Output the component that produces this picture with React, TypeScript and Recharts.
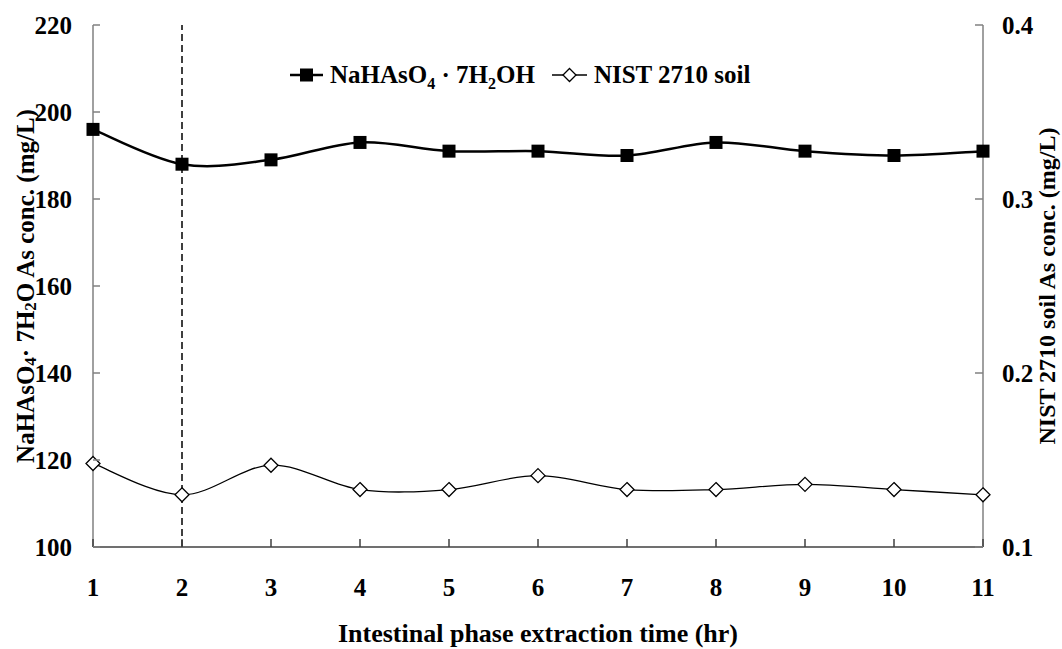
import React from 'react';
import { LineChart, Line, XAxis, YAxis, ReferenceLine, Legend } from 'recharts';

const FONT = '"Liberation Serif", "Times New Roman", Times, serif';

// ---- data ----
const times = [1, 2, 3, 4, 5, 6, 7, 8, 9, 10, 11];
const nahaso4Conc = [196, 188, 189, 193, 191, 191, 190, 193, 191, 190, 191];
const nistConc = [0.148, 0.13, 0.147, 0.133, 0.133, 0.141, 0.133, 0.133, 0.136, 0.133, 0.13];
const leftTicks = [100, 120, 140, 160, 180, 200, 220];
const rightTicks = [0.1, 0.2, 0.3, 0.4];
const xTicks = [1, 2, 3, 4, 5, 6, 7, 8, 9, 10, 11];
const seriesNames = ['NaHAsO4 · 7H2OH', 'NIST 2710 soil'];
const leftAxisTitle = 'NaHAsO4· 7H2O As conc. (mg/L)';
const rightAxisTitle = 'NIST 2710 soil As conc. (mg/L)';
const xAxisTitle = 'Intestinal phase extraction time (hr)';
const markerTime = 2;

const data = times.map((t, i) => ({ time: t, nahaso4: nahaso4Conc[i], nist: nistConc[i] }));

// Excel-like smoothed line (Catmull-Rom through the points)
const excelCurve = (context: any) => {
  let pts: number[][] = [];
  return {
    areaStart() {},
    areaEnd() {},
    lineStart() {
      pts = [];
    },
    point(x: number, y: number) {
      pts.push([+x, +y]);
    },
    lineEnd() {
      const n = pts.length;
      if (!n) return;
      context.moveTo(pts[0][0], pts[0][1]);
      for (let i = 0; i < n - 1; i++) {
        const p0 = pts[i - 1] || pts[i];
        const p1 = pts[i];
        const p2 = pts[i + 1];
        const p3 = pts[i + 2] || p2;
        context.bezierCurveTo(
          p1[0] + (p2[0] - p0[0]) / 6,
          p1[1] + (p2[1] - p0[1]) / 6,
          p2[0] - (p3[0] - p1[0]) / 6,
          p2[1] - (p3[1] - p1[1]) / 6,
          p2[0],
          p2[1]
        );
      }
    },
  };
};

function splitChem(s: string) {
  const parts: { t: string; sub: boolean }[] = [];
  for (let i = 0; i < s.length; i++) {
    const c = s[i];
    const sub = /\d/.test(c) && i > 0 && /[A-Za-z]/.test(s[i - 1]);
    const last = parts[parts.length - 1];
    if (last && last.sub === sub) last.t += c;
    else parts.push({ t: c, sub });
  }
  return parts;
}

function svgChem(s: string, subSize: number, shift: number) {
  const parts = splitChem(s);
  let prevSub = false;
  return parts.map((p, i) => {
    let dy = 0;
    if (p.sub && !prevSub) dy = shift;
    if (!p.sub && prevSub) dy = -shift;
    prevSub = p.sub;
    return (
      <tspan key={i} dy={dy} fontSize={p.sub ? subSize : undefined}>
        {p.t}
      </tspan>
    );
  });
}

function htmlChem(s: string) {
  return splitChem(s).map((p, i) =>
    p.sub ? (
      <sub key={i} style={{ fontSize: 16, lineHeight: 0 }}>
        {p.t}
      </sub>
    ) : (
      <span key={i} style={{ whiteSpace: 'pre' }}>{p.t}</span>
    )
  );
}

const SquareDot = (p: any) => (
  <rect key={`sq-${p.index}`} x={p.cx - 6.5} y={p.cy - 6.5} width={13} height={13} fill="#000" />
);

const DiamondDot = (p: any) => (
  <polygon
    key={`dm-${p.index}`}
    points={`${p.cx},${p.cy - 7} ${p.cx + 7},${p.cy} ${p.cx},${p.cy + 7} ${p.cx - 7},${p.cy}`}
    fill="#fff"
    stroke="#000"
    strokeWidth={1.3}
  />
);

const XTick = (p: any) => (
  <g>
    <line x1={p.x} x2={p.x} y1={p.y} y2={p.y - 8} stroke="#404040" strokeWidth={1.5} />
    <text x={p.x} y={p.y + 49} textAnchor="middle" fontFamily={FONT} fontWeight="bold" fontSize={25} fill="#000">
      {p.payload.value}
    </text>
  </g>
);

const LeftTick = (p: any) => (
  <g>
    <line x1={p.x} x2={p.x + 7} y1={p.y} y2={p.y} stroke="#808080" strokeWidth={1.5} />
    <text x={p.x - 21} y={p.y + 9} textAnchor="end" fontFamily={FONT} fontWeight="bold" fontSize={25} fill="#000">
      {p.payload.value}
    </text>
  </g>
);

const RightTick = (p: any) => (
  <g>
    <line x1={p.x} x2={p.x - 8} y1={p.y} y2={p.y} stroke="#808080" strokeWidth={1.5} />
    <text x={p.x + 19} y={p.y + 9} textAnchor="start" fontFamily={FONT} fontWeight="bold" fontSize={25} fill="#000">
      {Number(p.payload.value).toFixed(1)}
    </text>
  </g>
);

const LeftTitle = (props: any) => {
  const vb = props.viewBox || { x: 0, y: 25, width: 93, height: 522 };
  const cx = vb.x + 25;
  const cy = vb.y + vb.height / 2;
  return (
    <text
      x={cx}
      y={cy}
      transform={`rotate(-90, ${cx}, ${cy})`}
      textAnchor="middle"
      dominantBaseline="central"
      fontFamily={FONT}
      fontWeight="bold"
      fontSize={25}
      fill="#000"
    >
      {svgChem(leftAxisTitle, 17, 5)}
    </text>
  );
};

const RightTitle = (props: any) => {
  const vb = props.viewBox || { x: 983, y: 25, width: 79, height: 522 };
  const cx = vb.x + 64;
  const cy = vb.y + vb.height / 2;
  return (
    <text
      x={cx}
      y={cy}
      transform={`rotate(-90, ${cx}, ${cy})`}
      textAnchor="middle"
      dominantBaseline="central"
      fontFamily={FONT}
      fontWeight="bold"
      fontSize={24}
      fill="#000"
    >
      {rightAxisTitle}
    </text>
  );
};

const XTitle = (props: any) => {
  const vb = props.viewBox || { x: 93, y: 547, width: 890, height: 102 };
  return (
    <text
      x={vb.x + vb.width / 2}
      y={vb.y + 86}
      textAnchor="middle"
      dominantBaseline="central"
      fontFamily={FONT}
      fontWeight="bold"
      fontSize={26}
      fill="#000"
    >
      {xAxisTitle}
    </text>
  );
};

const LegendContent = () => (
  <div
    style={{
      display: 'flex',
      alignItems: 'center',
      fontFamily: FONT,
      fontWeight: 'bold',
      fontSize: 25,
      color: '#000',
      whiteSpace: 'nowrap',
      lineHeight: '30px',
      height: 30,
    }}
  >
    <svg width={33} height={20} style={{ display: 'block' }}>
      <line x1={0} x2={33} y1={10} y2={10} stroke="#000" strokeWidth={2.5} />
      <rect x={10} y={3.5} width={13} height={13} fill="#000" />
    </svg>
    <span style={{ marginLeft: 7 }}>{htmlChem(seriesNames[0])}</span>
    <svg width={35} height={20} style={{ display: 'block', marginLeft: 17 }}>
      <line x1={0} x2={35} y1={10} y2={10} stroke="#000" strokeWidth={1.3} />
      <polygon points="17.5,3.5 24,10 17.5,16.5 11,10" fill="#fff" stroke="#000" strokeWidth={1.3} />
    </svg>
    <span style={{ marginLeft: 7 }}>{htmlChem(seriesNames[1])}</span>
  </div>
);

export default function App() {
  return (
    <div style={{ position: 'absolute', left: 0, top: 0, width: 1062, height: 649, overflow: 'hidden', background: '#fff' }}>
      <LineChart width={1062} height={649} data={data} margin={{ top: 25, right: 0, bottom: 0, left: 0 }}>
        <XAxis
          dataKey="time"
          type="number"
          domain={[1, 11]}
          ticks={xTicks}
          interval={0}
          height={102}
          tickSize={0}
          tickMargin={0}
          tickLine={false}
          axisLine={{ stroke: '#404040', strokeWidth: 1.5 }}
          tick={XTick}
          label={XTitle}
        />
        <YAxis
          yAxisId="left"
          domain={[100, 220]}
          ticks={leftTicks}
          interval={0}
          width={93}
          tickSize={0}
          tickMargin={0}
          tickLine={false}
          axisLine={{ stroke: '#808080', strokeWidth: 1.5 }}
          tick={LeftTick}
          label={LeftTitle}
        />
        <YAxis
          yAxisId="right"
          orientation="right"
          domain={[0.1, 0.4]}
          ticks={rightTicks}
          interval={0}
          width={79}
          tickSize={0}
          tickMargin={0}
          tickLine={false}
          axisLine={{ stroke: '#808080', strokeWidth: 1.5 }}
          tick={RightTick}
          label={RightTitle}
        />
        <ReferenceLine x={markerTime} yAxisId="left" stroke="#000" strokeWidth={1.5} strokeDasharray="7 4" />
        <Legend
          layout="horizontal"
          verticalAlign="middle"
          align="center"
          wrapperStyle={{ top: 60, left: 290, width: 'auto', height: 30 }}
          content={LegendContent}
        />
        <Line
          yAxisId="left"
          dataKey="nahaso4"
          name={seriesNames[0]}
          type={excelCurve as any}
          stroke="#000"
          strokeWidth={2.5}
          dot={SquareDot}
          activeDot={false}
          isAnimationActive={false}
        />
        <Line
          yAxisId="right"
          dataKey="nist"
          name={seriesNames[1]}
          type={excelCurve as any}
          stroke="#000"
          strokeWidth={1.3}
          dot={DiamondDot}
          activeDot={false}
          isAnimationActive={false}
        />
      </LineChart>
    </div>
  );
}
